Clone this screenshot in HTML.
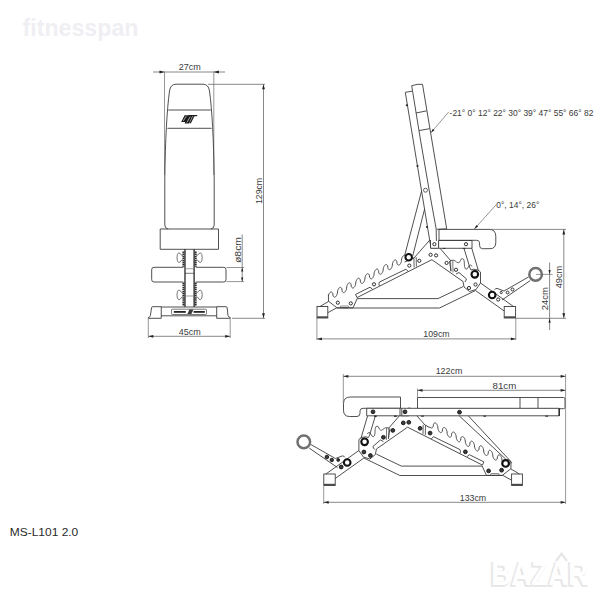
<!DOCTYPE html>
<html><head><meta charset="utf-8"><style>
html,body{margin:0;padding:0;background:#fff;}
svg{display:block;}
text{font-family:"Liberation Sans",sans-serif;}
</style></head><body>
<svg width="600" height="600" viewBox="0 0 600 600">
<rect width="600" height="600" fill="#fff"/>
<text x="22.5" y="36" font-weight="bold" font-size="23.5" fill="#efeff3" textLength="116" lengthAdjust="spacingAndGlyphs">fitnesspan</text>
<line x1="153" y1="72" x2="225" y2="72" stroke="#6a6a6a" stroke-width="0.8"/>
<path d="M164.50 72.00 L159.50 73.40 L159.50 70.60 Z" fill="#222"/>
<path d="M213.80 72.00 L218.80 70.60 L218.80 73.40 Z" fill="#222"/>
<line x1="164.5" y1="71.5" x2="164.5" y2="175" stroke="#6a6a6a" stroke-width="0.7"/>
<line x1="213.8" y1="71.5" x2="213.8" y2="175" stroke="#6a6a6a" stroke-width="0.7"/>
<text x="189.8" y="70.2" font-size="9" fill="#3a3a3a" text-anchor="middle" textLength="22" lengthAdjust="spacingAndGlyphs">27cm</text>
<path d="M168.2 229 Q164.8 228.5 164.8 225 L164.8 178 Q165.6 120 169.5 91 Q170.5 84.2 176 84.2 L203 84.2 Q208.5 84.2 209.5 91 Q213.4 120 214.2 178 L214.2 225 Q214.2 228.5 210.8 229" stroke="#3c3c3c" stroke-width="0.9" fill="none" stroke-linejoin="round"/>
<line x1="168.2" y1="110" x2="210.8" y2="110" stroke="#3c3c3c" stroke-width="0.9"/>
<line x1="167.4" y1="128.3" x2="211.6" y2="128.3" stroke="#3c3c3c" stroke-width="0.9"/>
<path d="M181.2 121.9 L184.6 115.3 L188.6 115.3 L185.4 121.9 Z M184.6 123.6 L188.2 115.6 L192.6 115.6 L189.0 123.6 Z M189.4 123.2 L192.9 116.2 L194.4 116.2 L190.9 123.2 Z M188.6 115.0 L197.6 115.0 L196.8 116.3 L188.2 116.3 Z" fill="#1c1c1c"/>
<path d="M183.3 120.9 L186.2 116.1 M187.0 122.4 L190.2 116.6" stroke="#d8d8d8" stroke-width="0.7" fill="none"/>
<line x1="208" y1="84.3" x2="265" y2="84.3" stroke="#6a6a6a" stroke-width="0.8"/>
<line x1="263.5" y1="84.3" x2="263.5" y2="318.3" stroke="#6a6a6a" stroke-width="0.8"/>
<path d="M263.50 84.30 L264.90 89.30 L262.10 89.30 Z" fill="#222"/>
<path d="M263.50 318.30 L262.10 313.30 L264.90 313.30 Z" fill="#222"/>
<text x="262" y="191" font-size="9" fill="#3a3a3a" text-anchor="middle" textLength="26" lengthAdjust="spacingAndGlyphs" transform="rotate(-90 262 191)">129cm</text>
<line x1="232" y1="318.3" x2="265" y2="318.3" stroke="#6a6a6a" stroke-width="0.8"/>
<path d="M160.2 229 L218.5 229 L218.5 249.3 L160.2 249.3 Z" stroke="#3c3c3c" stroke-width="0.9" fill="none" stroke-linejoin="round"/>
<rect x="183.3" y="250.1" width="12.6" height="56.6" fill="#fff" stroke="none"/>
<line x1="185" y1="249.3" x2="185" y2="307" stroke="#262626" stroke-width="1.3"/>
<line x1="194.1" y1="249.3" x2="194.1" y2="307" stroke="#262626" stroke-width="1.3"/>
<path d="M183.5 251.5 L183.5 267 M195.6 251.5 L195.6 267 M183.5 282.5 L183.5 306 M195.6 282.5 L195.6 306" stroke="#2a2a2a" stroke-width="2.1" stroke-dasharray="1.5 0.6" fill="none"/>
<line x1="185" y1="268.7" x2="194.1" y2="268.7" stroke="#777" stroke-width="0.7"/>
<line x1="185" y1="273.3" x2="194.1" y2="273.3" stroke="#3c3c3c" stroke-width="0.7"/>
<line x1="185" y1="296" x2="194.1" y2="296" stroke="#777" stroke-width="0.7"/>
<path d="M182.8 255.6 L181.6 255.29999999999998 Q180.2 252.7 178.6 252.89999999999998 Q177 253.7 177 257.7 Q177 261.7 178.6 262.5 Q180.2 262.7 181.6 260.09999999999997 L182.8 259.8" stroke="#555" stroke-width="0.8" fill="none" stroke-linejoin="round"/>
<path d="M196.4 255.6 L197.6 255.29999999999998 Q199 252.7 200.6 252.89999999999998 Q202.2 253.7 202.2 257.7 Q202.2 261.7 200.6 262.5 Q199 262.7 197.6 260.09999999999997 L196.4 259.8" stroke="#555" stroke-width="0.8" fill="none" stroke-linejoin="round"/>
<path d="M182.8 292.79999999999995 L181.6 292.5 Q180.2 289.9 178.6 290.09999999999997 Q177 290.9 177 294.9 Q177 298.9 178.6 299.7 Q180.2 299.9 181.6 297.29999999999995 L182.8 297.0" stroke="#555" stroke-width="0.8" fill="none" stroke-linejoin="round"/>
<path d="M196.4 292.79999999999995 L197.6 292.5 Q199 289.9 200.6 290.09999999999997 Q202.2 290.9 202.2 294.9 Q202.2 298.9 200.6 299.7 Q199 299.9 197.6 297.29999999999995 L196.4 297.0" stroke="#555" stroke-width="0.8" fill="none" stroke-linejoin="round"/>
<path d="M183.3 267.3 L154 267.3 Q151.7 267.3 151.7 269.6 L151.7 279.7 Q151.7 282 154 282 L183.3 282" stroke="#3c3c3c" stroke-width="0.9" fill="none" stroke-linejoin="round"/>
<path d="M195.9 267.3 L223.7 267.3 Q226 267.3 226 269.6 L226 279.7 Q226 282 223.7 282 L195.9 282" stroke="#3c3c3c" stroke-width="0.9" fill="none" stroke-linejoin="round"/>
<line x1="226.5" y1="267.5" x2="244" y2="267.5" stroke="#6a6a6a" stroke-width="0.7"/>
<line x1="226.5" y1="281.6" x2="244" y2="281.6" stroke="#6a6a6a" stroke-width="0.7"/>
<line x1="242.2" y1="234.5" x2="242.2" y2="282" stroke="#6a6a6a" stroke-width="0.8"/>
<path d="M242.20 267.50 L243.30 271.50 L241.10 271.50 Z" fill="#222"/>
<path d="M242.20 281.60 L241.10 277.60 L243.30 277.60 Z" fill="#222"/>
<text x="240.5" y="250" font-size="9" fill="#3a3a3a" text-anchor="middle" textLength="26" lengthAdjust="spacingAndGlyphs" transform="rotate(-90 240.5 250)">ø8cm</text>
<path d="M152.5 306.7 L161.25 306.7 L161.25 318.3 L148.3 318.3 L148.3 317.5 Q150.4 317 150.4 315.5 L151.5 308 Q151.8 306.7 152.5 306.7 Z" stroke="#3c3c3c" stroke-width="0.9" fill="none" stroke-linejoin="round"/>
<path d="M216.7 306.7 L226 306.7 Q227 306.7 227.2 308 L228 315.5 Q228.2 317 230.3 317.5 L230.3 318.3 L216.7 318.3 Z" stroke="#3c3c3c" stroke-width="0.9" fill="none" stroke-linejoin="round"/>
<line x1="161.25" y1="307" x2="216.7" y2="307" stroke="#3c3c3c" stroke-width="0.9"/>
<line x1="161.25" y1="315.8" x2="216.7" y2="315.8" stroke="#3c3c3c" stroke-width="0.9"/>
<rect x="171.5" y="309.2" width="35" height="5.3" rx="0.8" fill="#fff" stroke="#444" stroke-width="0.7"/>
<rect x="173.8" y="311.0" width="12" height="1.8" fill="#262626"/>
<rect x="193.6" y="311.0" width="11.2" height="1.8" fill="#262626"/>
<path d="M187.4 314 L189.4 309.5 L193.4 309.5 L191.4 314 Z" fill="#3a3a3a"/>
<line x1="148.3" y1="318.3" x2="148.3" y2="338" stroke="#6a6a6a" stroke-width="0.7"/>
<line x1="230.2" y1="318.3" x2="230.2" y2="338" stroke="#6a6a6a" stroke-width="0.7"/>
<line x1="148.3" y1="336.3" x2="230.2" y2="336.3" stroke="#6a6a6a" stroke-width="0.8"/>
<path d="M148.30 336.30 L153.30 334.90 L153.30 337.70 Z" fill="#222"/>
<path d="M230.20 336.30 L225.20 337.70 L225.20 334.90 Z" fill="#222"/>
<text x="189.8" y="334.6" font-size="9" fill="#3a3a3a" text-anchor="middle" textLength="22" lengthAdjust="spacingAndGlyphs">45cm</text>
<g>
<rect x="317" y="306.5" width="10.8" height="11.5" fill="#fff" stroke="#3c3c3c" stroke-width="0.9"/>
<rect x="317" y="316.3" width="10.8" height="1.7" fill="#4a4a4a"/>
<rect x="504.2" y="306.5" width="11.4" height="11.5" fill="#fff" stroke="#3c3c3c" stroke-width="0.9"/>
<rect x="504.2" y="316.3" width="11.4" height="1.7" fill="#4a4a4a"/>
<line x1="319.9" y1="306.5" x2="328.7" y2="301.4" stroke="#3c3c3c" stroke-width="0.9"/>
<line x1="327.8" y1="312.7" x2="336.8" y2="307.8" stroke="#3c3c3c" stroke-width="0.9"/>
<path d="M328.40 295.92 L328.57 295.22 L328.73 294.71 L328.90 294.29 L329.07 293.93 L329.23 293.61 L329.40 293.33 L329.57 293.08 L329.74 292.86 L329.90 292.66 L330.07 292.49 L330.24 292.34 L330.40 292.22 L330.57 292.12 L330.74 292.04 L330.90 291.99 L331.07 291.96 L331.24 291.96 L331.40 291.98 L331.57 292.02 L331.74 292.10 L331.90 292.20 L332.07 292.34 L332.24 292.52 L332.41 292.74 L332.57 293.05 L332.74 293.48 L332.91 294.95 L333.07 295.75 L333.24 296.14 L333.41 296.42 L333.57 296.64 L333.74 296.81 L333.91 296.94 L334.07 297.03 L334.24 297.10 L334.41 297.14 L334.57 297.16 L334.74 297.15 L334.91 297.12 L335.08 297.06 L335.24 296.98 L335.41 296.87 L335.58 296.74 L335.74 296.59 L335.91 296.41 L336.08 296.21 L336.24 295.98 L336.41 295.72 L336.58 295.43 L336.74 295.11 L336.91 294.73 L337.08 294.30 L337.24 293.77 L337.41 292.97 L337.58 291.19 L337.75 290.55 L337.91 290.06 L338.08 289.65 L338.25 289.30 L338.41 288.99 L338.58 288.71 L338.75 288.46 L338.91 288.24 L339.08 288.05 L339.25 287.88 L339.41 287.74 L339.58 287.62 L339.75 287.53 L339.91 287.45 L340.08 287.41 L340.25 287.38 L340.42 287.38 L340.58 287.41 L340.75 287.46 L340.92 287.54 L341.08 287.65 L341.25 287.79 L341.42 287.98 L341.58 288.21 L341.75 288.53 L341.92 289.01 L342.08 290.60 L342.25 291.25 L342.42 291.62 L342.59 291.89 L342.75 292.10 L342.92 292.26 L343.09 292.38 L343.25 292.47 L343.42 292.54 L343.59 292.57 L343.75 292.58 L343.92 292.57 L344.09 292.53 L344.25 292.47 L344.42 292.39 L344.59 292.28 L344.75 292.14 L344.92 291.99 L345.09 291.81 L345.26 291.60 L345.42 291.36 L345.59 291.10 L345.76 290.80 L345.92 290.47 L346.09 290.09 L346.26 289.64 L346.42 289.08 L346.59 288.15 L346.76 286.49 L346.92 285.88 L347.09 285.41 L347.26 285.01 L347.42 284.67 L347.59 284.36 L347.76 284.09 L347.93 283.85 L348.09 283.63 L348.26 283.45 L348.43 283.28 L348.59 283.14 L348.76 283.03 L348.93 282.94 L349.09 282.87 L349.26 282.83 L349.43 282.81 L349.59 282.81 L349.76 282.84 L349.93 282.90 L350.09 282.98 L350.26 283.10 L350.43 283.25 L350.60 283.44 L350.76 283.69 L350.93 284.02 L351.10 284.55 L351.26 286.19 L351.43 286.75 L351.60 287.10 L351.76 287.35 L351.93 287.55 L352.10 287.70 L352.26 287.82 L352.43 287.91 L352.60 287.97 L352.76 288.00 L352.93 288.01 L353.10 287.99 L353.27 287.95 L353.43 287.88 L353.60 287.79 L353.77 287.68 L353.93 287.54 L354.10 287.38 L354.27 287.20 L354.43 286.98 L354.60 286.75 L354.77 286.48 L354.93 286.17 L355.10 285.83 L355.27 285.44 L355.44 284.98 L355.60 284.39 L355.77 282.88 L355.94 281.79 L356.10 281.22 L356.27 280.76 L356.44 280.38 L356.60 280.04 L356.77 279.74 L356.94 279.47 L357.10 279.24 L357.27 279.03 L357.44 278.84 L357.60 278.68 L357.77 278.55 L357.94 278.44 L358.11 278.35 L358.27 278.28 L358.44 278.24 L358.61 278.23 L358.77 278.24 L358.94 278.27 L359.11 278.33 L359.27 278.42 L359.44 278.54 L359.61 278.70 L359.77 278.90 L359.94 279.16 L360.11 279.52 L360.27 280.12 L360.44 281.74 L360.61 282.24 L360.78 282.57 L360.94 282.82 L361.11 283.00 L361.28 283.15 L361.44 283.27 L361.61 283.35 L361.78 283.40 L361.94 283.43 L362.11 283.43 L362.28 283.41 L362.44 283.36 L362.61 283.29 L362.78 283.20 L362.94 283.08 L363.11 282.94 L363.28 282.78 L363.45 282.59 L363.61 282.37 L363.78 282.13 L363.95 281.85 L364.11 281.54 L364.28 281.20 L364.45 280.80 L364.61 280.32 L364.78 279.69 L364.95 277.97 L365.11 277.10 L365.28 276.56 L365.45 276.12 L365.61 275.74 L365.78 275.41 L365.95 275.12 L366.12 274.86 L366.28 274.62 L366.45 274.42 L366.62 274.24 L366.78 274.08 L366.95 273.95 L367.12 273.84 L367.28 273.76 L367.45 273.70 L367.62 273.67 L367.78 273.65 L367.95 273.67 L368.12 273.71 L368.29 273.77 L368.45 273.87 L368.62 273.99 L368.79 274.16 L368.95 274.37 L369.12 274.64 L369.29 275.02 L369.45 275.72 L369.62 277.28 L369.79 277.73 L369.95 278.04 L370.12 278.28 L370.29 278.46 L370.45 278.60 L370.62 278.71 L370.79 278.78 L370.96 278.83 L371.12 278.86 L371.29 278.85 L371.46 278.83 L371.62 278.78 L371.79 278.71 L371.96 278.61 L372.12 278.49 L372.29 278.34 L372.46 278.17 L372.62 277.98 L372.79 277.76 L372.96 277.51 L373.12 277.23 L373.29 276.91 L373.46 276.56 L373.63 276.15 L373.79 275.65 L373.96 274.98 L374.13 273.19 L374.29 272.42 L374.46 271.90 L374.63 271.47 L374.79 271.11 L374.96 270.78 L375.13 270.49 L375.29 270.24 L375.46 270.01 L375.63 269.81 L375.79 269.63 L375.96 269.48 L376.13 269.36 L376.30 269.25 L376.46 269.17 L376.63 269.12 L376.80 269.09 L376.96 269.08 L377.13 269.10 L377.30 269.14 L377.46 269.21 L377.63 269.31 L377.80 269.44 L377.96 269.61 L378.13 269.83 L378.30 270.12 L378.46 270.53 L378.63 271.46 L378.80 272.80 L378.97 273.22 L379.13 273.51 L379.30 273.74 L379.47 273.91 L379.63 274.04 L379.80 274.15 L379.97 274.22 L380.13 274.26 L380.30 274.28 L380.47 274.28 L380.63 274.25 L380.80 274.19 L380.97 274.12 L381.14 274.01 L381.30 273.89 L381.47 273.74 L381.64 273.57 L381.80 273.37 L381.97 273.14 L382.14 272.89 L382.30 272.60 L382.47 272.28 L382.64 271.92 L382.80 271.49 L382.97 270.98 L383.14 270.25 L383.30 268.44 L383.47 267.75 L383.64 267.25 L383.81 266.83 L383.97 266.47 L384.14 266.16 L384.31 265.87 L384.47 265.62 L384.64 265.40 L384.81 265.20 L384.97 265.03 L385.14 264.88 L385.31 264.76 L385.47 264.66 L385.64 264.59 L385.81 264.54 L385.97 264.51 L386.14 264.51 L386.31 264.53 L386.48 264.57 L386.64 264.65 L386.81 264.76 L386.98 264.89 L387.14 265.07 L387.31 265.30 L387.48 265.60 L387.64 266.05 L387.81 267.55 L387.98 268.31 L388.14 268.70 L388.31 268.98 L388.48 269.19 L388.64 269.36 L388.81 269.49 L388.98 269.59 L389.15 269.65 L389.31 269.69 L389.48 269.71 L389.65 269.70 L389.81 269.66 L389.98 269.61 L390.15 269.52 L390.31 269.42 L390.48 269.29 L390.65 269.14 L390.81 268.96 L390.98 268.75 L391.15 268.52 L391.31 268.26 L391.48 267.97 L391.65 267.65 L391.82 267.27 L391.98 266.84 L392.15 266.30 L392.32 265.48 L392.48 263.72 L392.65 263.08 L392.82 262.60 L392.98 262.19 L393.15 261.84 L393.32 261.53 L393.48 261.25 L393.65 261.01 L393.82 260.79 L393.99 260.60 L394.15 260.43 L394.32 260.29 L394.49 260.17 L394.65 260.07 L394.82 260.00 L394.99 259.95 L395.15 259.93 L395.32 259.93 L395.49 259.96 L395.65 260.01 L395.82 260.09 L395.99 260.20 L396.15 260.35 L396.32 260.53 L396.49 260.77 L396.66 261.09 L396.82 261.58 L396.99 263.18 L397.16 263.81 L397.32 264.18 L397.49 264.45 L397.66 264.65 L397.82 264.81 L397.99 264.93 L398.16 265.02 L398.32 265.09 L398.49 265.12 L398.66 265.13 L398.82 265.12 L398.99 265.08 L399.16 265.02 L399.33 264.93 L399.49 264.82 L399.66 264.69 L399.83 264.53 L399.99 264.35 L400.16 264.14 L400.33 263.91 L400.49 263.64 L400.66 263.35 L400.83 263.01 L400.99 262.63 L401.16 262.18 L401.33 261.62 L401.49 260.65 L401.66 259.02 L401.83 258.42 L402.00 257.95 L402.16 257.55 L402.33 257.21 L402.50 256.91 L402.66 256.63 L402.83 256.39 L403.00 256.18 L403.16 255.99 L403.33 255.83 L403.50 255.69 L403.66 255.58 L403.83 255.48 L404.00 255.42 L404.16 255.37 L404.33 255.35 L404.50 255.36 L404.67 255.39 L404.83 255.45 L405.00 255.53 L405.17 255.65 L405.33 255.80 L405.50 255.99" stroke="#3c3c3c" stroke-width="0.95" fill="none"/>
<path d="M328.5 301.4 L328.4 294.5" stroke="#3c3c3c" stroke-width="0.9" fill="none" stroke-linejoin="round"/>
<path d="M328.7 301.4 L337 307.8 L353 307.8 L357.4 298.2" stroke="#3c3c3c" stroke-width="0.9" fill="none" stroke-linejoin="round"/>
<rect x="340.3" y="306.0" width="8.4" height="1.8" rx="0.9" fill="none" stroke="#3c3c3c" stroke-width="0.6"/>
<path d="M357 297.6 L355.5 294.4 L370 287.2 L372.5 289.2" stroke="#3c3c3c" stroke-width="0.9" fill="none" stroke-linejoin="round"/>
<path d="M379.4 285.8 Q378.3 284 379.5 282 L405.9 269.2 L408.2 271.4" stroke="#3c3c3c" stroke-width="0.9" fill="none" stroke-linejoin="round"/>
<line x1="357" y1="297.6" x2="432" y2="259.6" stroke="#3c3c3c" stroke-width="0.9"/>
<line x1="413.9" y1="257.6" x2="414.1" y2="267.6" stroke="#3c3c3c" stroke-width="0.8"/>
<line x1="416.2" y1="257.2" x2="416.4" y2="266.6" stroke="#3c3c3c" stroke-width="0.8"/>
<line x1="432" y1="259.8" x2="463" y2="281.5" stroke="#3c3c3c" stroke-width="0.9"/>
<path d="M357.4 298.6 L438 298.6 L463 286.6" stroke="#3c3c3c" stroke-width="0.9" fill="none" stroke-linejoin="round"/>
<path d="M336.8 308 L439.5 308 L475.5 290.5" stroke="#3c3c3c" stroke-width="0.9" fill="none" stroke-linejoin="round"/>
<line x1="480.5" y1="283" x2="513.5" y2="306.5" stroke="#3c3c3c" stroke-width="0.9"/>
<line x1="475.5" y1="290.5" x2="504.2" y2="311" stroke="#3c3c3c" stroke-width="0.9"/>
<line x1="440" y1="248.3" x2="451" y2="261" stroke="#3c3c3c" stroke-width="0.9"/>
<line x1="449.5" y1="261" x2="451" y2="271" stroke="#3c3c3c" stroke-width="0.9"/>
<path d="M414 258 L429.6 240.2" stroke="#3c3c3c" stroke-width="0.9" fill="none" stroke-linejoin="round"/>
<path d="M430.4 240 L430.6 248.3 L438.6 248.3 L438.6 240.5" stroke="#3c3c3c" stroke-width="1.0" fill="none" stroke-linejoin="round"/>
<rect x="442.8" y="247.9" width="2.6" height="1.1" fill="#222"/>
<rect x="462.8" y="247.9" width="2.6" height="1.1" fill="#222"/>
<path d="M450.5 260.5 L453.5 260.2 Q455 260.5 456.5 262 Q458 263 459 262.6 Q460 262 460.5 260.5 Q461 258.5 462.3 258.6 Q463.8 258.7 464.2 261 L464.5 266.5 Q465 269 466 269.2 Q467.5 269.2 468.5 266.8 Q469.3 265 470.5 265 Q471.7 265.2 472 266.5" stroke="#3c3c3c" stroke-width="0.8" fill="none" stroke-linejoin="round"/>
<line x1="450.6" y1="260.3" x2="450.8" y2="271.5" stroke="#3c3c3c" stroke-width="0.7"/>
<line x1="452.8" y1="260.3" x2="453" y2="272.5" stroke="#3c3c3c" stroke-width="0.7"/>
<path d="M469 266 L471 270 Q473 268.5 478 270 L480.5 272 L480.5 283 L476 289.5 L469.5 291.5 L464 287 L463 281.5" stroke="#3c3c3c" stroke-width="0.9" fill="none" stroke-linejoin="round"/>
<path d="M456 274 L459 272.5 L466.5 279 L465 282" stroke="#3c3c3c" stroke-width="0.9" fill="none" stroke-linejoin="round"/>
<line x1="464" y1="248.3" x2="469.5" y2="266.5" stroke="#3c3c3c" stroke-width="0.9"/>
<line x1="471.8" y1="248.3" x2="478.5" y2="271" stroke="#3c3c3c" stroke-width="0.9"/>
<path d="M494.5 289.8 Q495.5 288.2 497 288.4 L504 291 L528.5 277" stroke="#3c3c3c" stroke-width="0.9" fill="none" stroke-linejoin="round"/>
<line x1="502" y1="300" x2="530.2" y2="280.6" stroke="#3c3c3c" stroke-width="0.9"/>
<circle cx="535.6" cy="274.4" r="6.3" stroke="#707070" stroke-width="2.5" fill="#fff"/>
<circle cx="474.8" cy="274.3" r="3.3" stroke="#111" stroke-width="2.1" fill="#fff"/>
<circle cx="492.2" cy="295" r="3.3" stroke="#111" stroke-width="2.1" fill="#fff"/>
<circle cx="337.8" cy="302.7" r="1.6" stroke="#2e2e2e" stroke-width="1.0" fill="#fff"/>
<circle cx="350.8" cy="303.4" r="1.6" stroke="#2e2e2e" stroke-width="1.0" fill="#fff"/>
<circle cx="374" cy="284.3" r="1.6" stroke="#2e2e2e" stroke-width="1.0" fill="#fff"/>
<circle cx="409.3" cy="265.6" r="1.6" stroke="#2e2e2e" stroke-width="1.0" fill="#fff"/>
<circle cx="430.6" cy="254.8" r="1.6" stroke="#2e2e2e" stroke-width="1.0" fill="#fff"/>
<circle cx="436.1" cy="255.4" r="1.6" stroke="#2e2e2e" stroke-width="1.0" fill="#fff"/>
<circle cx="419.3" cy="260.8" r="1.6" stroke="#2e2e2e" stroke-width="1.0" fill="#fff"/>
<circle cx="446.6" cy="262.9" r="1.6" stroke="#2e2e2e" stroke-width="1.0" fill="#fff"/>
<circle cx="456" cy="269.8" r="1.6" stroke="#2e2e2e" stroke-width="1.0" fill="#fff"/>
<circle cx="475.5" cy="284.5" r="1.6" stroke="#2e2e2e" stroke-width="1.0" fill="#fff"/>
<circle cx="469" cy="288" r="1.6" stroke="#2e2e2e" stroke-width="1.0" fill="#fff"/>
<circle cx="498.2" cy="299.5" r="1.6" stroke="#2e2e2e" stroke-width="1.0" fill="#fff"/>
<circle cx="466" cy="244.2" r="1.6" stroke="#2e2e2e" stroke-width="1.0" fill="#fff"/>
<circle cx="434.4" cy="244.2" r="1.6" stroke="#2e2e2e" stroke-width="1.0" fill="#fff"/>
<circle cx="501.2" cy="292.5" r="1.1" stroke="#333" stroke-width="1.0" fill="#fff"/>
<circle cx="507.6" cy="292.5" r="1.4" stroke="#333" stroke-width="1.0" fill="#fff"/>
<circle cx="512.5" cy="289.5" r="1.5" stroke="#333" stroke-width="1.0" fill="#fff"/>
</g>
<line x1="405.3" y1="92.3" x2="430.3" y2="244" stroke="#3c3c3c" stroke-width="0.9"/>
<line x1="405.3" y1="92.3" x2="412.0" y2="91.2" stroke="#3c3c3c" stroke-width="0.9"/>
<path d="M411.7 85.7 L420.5 140 L430 195 L436.2 229 L436.4 241" stroke="#3c3c3c" stroke-width="0.9" fill="none" stroke-linejoin="round"/>
<path d="M411.7 85.7 Q417 83.8 422.5 84.3 L446.7 228.8 L436.9 229.3" stroke="#3c3c3c" stroke-width="0.9" fill="none" stroke-linejoin="round"/>
<line x1="415.9" y1="113" x2="426.6" y2="110.9" stroke="#3c3c3c" stroke-width="0.9"/>
<line x1="419.0" y1="130.6" x2="429.5" y2="128.7" stroke="#3c3c3c" stroke-width="0.9"/>
<line x1="414" y1="258" x2="404.5" y2="262" stroke="#3c3c3c" stroke-width="0.9"/>
<circle cx="408.7" cy="257.3" r="3.25" stroke="#111" stroke-width="2.0" fill="#fff"/>
<line x1="421.6" y1="191" x2="404.7" y2="255.3" stroke="#3c3c3c" stroke-width="0.9"/>
<line x1="424.6" y1="209" x2="412.7" y2="256" stroke="#3c3c3c" stroke-width="0.9"/>
<circle cx="425.5" cy="190.2" r="2.0" stroke="#3c3c3c" stroke-width="0.8" fill="none"/>
<circle cx="406.8" cy="105.3" r="1.05" fill="#222"/>
<circle cx="417.5" cy="166" r="1.05" fill="#222"/>
<circle cx="427" cy="227" r="1.05" fill="#222"/>
<path d="M438.7 229.4 L489 229.4 Q495.8 229.4 495.8 236.2 L495.8 242.5 Q495.8 248.7 490 248.7 L482.5 248.7 Q479.6 248.7 479.6 245.5 L479.5 242.5 Q479.3 240.3 476.5 240.3 L438.7 240.3" stroke="#3c3c3c" stroke-width="0.9" fill="none" stroke-linejoin="round"/>
<line x1="439" y1="229.4" x2="439" y2="240.3" stroke="#3c3c3c" stroke-width="0.9"/>
<path d="M438.7 240.5 L472 240.5 L472 248.3 L438.7 248.3" stroke="#3c3c3c" stroke-width="0.9" fill="none" stroke-linejoin="round"/>
<line x1="430.9" y1="132.7" x2="448.8" y2="111.9" stroke="#6a6a6a" stroke-width="0.7"/>
<path d="M430.90 132.70 L432.79 128.79 L434.47 130.22 Z" fill="#222"/>
<text x="449.6" y="116" font-size="8.4" fill="#3a3a3a" text-anchor="start" textLength="143.8" lengthAdjust="spacingAndGlyphs">-21° 0° 12° 22° 30° 39° 47° 55° 66° 82</text>
<line x1="474.3" y1="229.1" x2="496.3" y2="204.6" stroke="#6a6a6a" stroke-width="0.7"/>
<path d="M474.30 229.10 L476.37 224.93 L478.17 226.51 Z" fill="#222"/>
<text x="496.3" y="208.1" font-size="8.2" fill="#3a3a3a" text-anchor="start" textLength="43" lengthAdjust="spacingAndGlyphs">0°, 14°, 26°</text>
<line x1="488" y1="229.4" x2="566" y2="229.4" stroke="#6a6a6a" stroke-width="0.8"/>
<line x1="563.8" y1="229.5" x2="563.8" y2="318.3" stroke="#6a6a6a" stroke-width="0.8"/>
<path d="M563.80 229.50 L565.20 234.50 L562.40 234.50 Z" fill="#222"/>
<path d="M563.80 318.30 L562.40 313.30 L565.20 313.30 Z" fill="#222"/>
<text x="562.3" y="277" font-size="9" fill="#3a3a3a" text-anchor="middle" textLength="22.5" lengthAdjust="spacingAndGlyphs" transform="rotate(-90 562.3 277)">49cm</text>
<line x1="515.8" y1="318.3" x2="566" y2="318.3" stroke="#6a6a6a" stroke-width="0.8"/>
<line x1="536" y1="274.4" x2="552.5" y2="274.4" stroke="#6a6a6a" stroke-width="0.7"/>
<line x1="549.6" y1="262.5" x2="549.6" y2="330" stroke="#6a6a6a" stroke-width="0.8"/>
<path d="M549.60 274.50 L548.50 270.00 L550.70 270.00 Z" fill="#222"/>
<path d="M549.60 318.30 L550.70 322.80 L548.50 322.80 Z" fill="#222"/>
<text x="547.7" y="298.7" font-size="9" fill="#3a3a3a" text-anchor="middle" textLength="23" lengthAdjust="spacingAndGlyphs" transform="rotate(-90 547.7 298.7)">24cm</text>
<line x1="316.9" y1="318" x2="316.9" y2="340" stroke="#6a6a6a" stroke-width="0.7"/>
<line x1="515.8" y1="318" x2="515.8" y2="340" stroke="#6a6a6a" stroke-width="0.7"/>
<line x1="316.9" y1="338.9" x2="515.8" y2="338.9" stroke="#6a6a6a" stroke-width="0.8"/>
<path d="M316.90 338.90 L321.90 337.50 L321.90 340.30 Z" fill="#222"/>
<path d="M515.80 338.90 L510.80 340.30 L510.80 337.50 Z" fill="#222"/>
<text x="436.5" y="336.9" font-size="9" fill="#3a3a3a" text-anchor="middle" textLength="26.3" lengthAdjust="spacingAndGlyphs">109cm</text>
<g transform="translate(839.4 167.5) scale(-1 1)">
<rect x="317" y="306.5" width="10.8" height="11.5" fill="#fff" stroke="#3c3c3c" stroke-width="0.9"/>
<rect x="317" y="316.3" width="10.8" height="1.7" fill="#4a4a4a"/>
<rect x="504.2" y="306.5" width="11.4" height="11.5" fill="#fff" stroke="#3c3c3c" stroke-width="0.9"/>
<rect x="504.2" y="316.3" width="11.4" height="1.7" fill="#4a4a4a"/>
<line x1="319.9" y1="306.5" x2="328.7" y2="301.4" stroke="#3c3c3c" stroke-width="0.9"/>
<line x1="327.8" y1="312.7" x2="336.8" y2="307.8" stroke="#3c3c3c" stroke-width="0.9"/>
<path d="M328.40 295.92 L328.57 295.22 L328.73 294.71 L328.90 294.29 L329.07 293.93 L329.23 293.62 L329.40 293.33 L329.57 293.08 L329.73 292.86 L329.90 292.66 L330.07 292.49 L330.23 292.34 L330.40 292.22 L330.57 292.12 L330.73 292.04 L330.90 291.99 L331.07 291.96 L331.23 291.96 L331.40 291.98 L331.57 292.02 L331.73 292.10 L331.90 292.20 L332.07 292.34 L332.23 292.51 L332.40 292.74 L332.57 293.04 L332.74 293.47 L332.90 294.91 L333.07 295.73 L333.24 296.13 L333.40 296.42 L333.57 296.63 L333.74 296.80 L333.90 296.93 L334.07 297.03 L334.24 297.10 L334.40 297.14 L334.57 297.16 L334.74 297.15 L334.90 297.12 L335.07 297.06 L335.24 296.98 L335.40 296.88 L335.57 296.75 L335.74 296.60 L335.90 296.42 L336.07 296.22 L336.24 295.99 L336.40 295.73 L336.57 295.45 L336.74 295.12 L336.90 294.75 L337.07 294.32 L337.24 293.80 L337.40 293.02 L337.57 291.23 L337.74 290.57 L337.90 290.08 L338.07 289.67 L338.24 289.32 L338.40 289.00 L338.57 288.72 L338.74 288.48 L338.90 288.26 L339.07 288.06 L339.24 287.89 L339.40 287.75 L339.57 287.63 L339.74 287.53 L339.90 287.46 L340.07 287.41 L340.24 287.38 L340.40 287.38 L340.57 287.40 L340.74 287.45 L340.91 287.53 L341.07 287.64 L341.24 287.78 L341.41 287.96 L341.57 288.20 L341.74 288.51 L341.91 288.96 L342.07 290.52 L342.24 291.22 L342.41 291.60 L342.57 291.87 L342.74 292.08 L342.91 292.25 L343.07 292.37 L343.24 292.47 L343.41 292.53 L343.57 292.57 L343.74 292.58 L343.91 292.57 L344.07 292.54 L344.24 292.48 L344.41 292.39 L344.57 292.29 L344.74 292.16 L344.91 292.00 L345.07 291.82 L345.24 291.62 L345.41 291.39 L345.57 291.13 L345.74 290.83 L345.91 290.50 L346.07 290.13 L346.24 289.69 L346.41 289.14 L346.57 288.30 L346.74 286.56 L346.91 285.93 L347.07 285.45 L347.24 285.05 L347.41 284.70 L347.57 284.39 L347.74 284.12 L347.91 283.87 L348.07 283.66 L348.24 283.46 L348.41 283.30 L348.58 283.16 L348.74 283.04 L348.91 282.95 L349.08 282.88 L349.24 282.83 L349.41 282.81 L349.58 282.81 L349.74 282.83 L349.91 282.89 L350.08 282.97 L350.24 283.08 L350.41 283.23 L350.58 283.41 L350.74 283.65 L350.91 283.98 L351.08 284.47 L351.24 286.08 L351.41 286.70 L351.58 287.06 L351.74 287.33 L351.91 287.53 L352.08 287.69 L352.24 287.81 L352.41 287.90 L352.58 287.96 L352.74 288.00 L352.91 288.01 L353.08 287.99 L353.24 287.96 L353.41 287.89 L353.58 287.81 L353.74 287.70 L353.91 287.56 L354.08 287.41 L354.24 287.22 L354.41 287.02 L354.58 286.78 L354.74 286.52 L354.91 286.22 L355.08 285.88 L355.24 285.50 L355.41 285.05 L355.58 284.49 L355.74 283.53 L355.91 281.89 L356.08 281.29 L356.24 280.82 L356.41 280.43 L356.58 280.09 L356.75 279.78 L356.91 279.51 L357.08 279.27 L357.25 279.06 L357.41 278.87 L357.58 278.71 L357.75 278.57 L357.91 278.45 L358.08 278.36 L358.25 278.29 L358.41 278.25 L358.58 278.23 L358.75 278.23 L358.91 278.26 L359.08 278.32 L359.25 278.41 L359.41 278.52 L359.58 278.67 L359.75 278.86 L359.91 279.11 L360.08 279.45 L360.25 279.98 L360.41 281.61 L360.58 282.18 L360.75 282.52 L360.91 282.78 L361.08 282.98 L361.25 283.13 L361.41 283.25 L361.58 283.33 L361.75 283.39 L361.91 283.43 L362.08 283.43 L362.25 283.42 L362.41 283.37 L362.58 283.31 L362.75 283.22 L362.91 283.11 L363.08 282.97 L363.25 282.81 L363.41 282.62 L363.58 282.41 L363.75 282.17 L363.91 281.91 L364.08 281.61 L364.25 281.27 L364.41 280.88 L364.58 280.42 L364.75 279.83 L364.92 278.39 L365.08 277.23 L365.25 276.65 L365.42 276.20 L365.58 275.81 L365.75 275.47 L365.92 275.17 L366.08 274.90 L366.25 274.67 L366.42 274.46 L366.58 274.27 L366.75 274.11 L366.92 273.98 L367.08 273.86 L367.25 273.78 L367.42 273.71 L367.58 273.67 L367.75 273.65 L367.92 273.66 L368.08 273.70 L368.25 273.75 L368.42 273.84 L368.58 273.96 L368.75 274.12 L368.92 274.32 L369.08 274.57 L369.25 274.93 L369.42 275.50 L369.58 277.13 L369.75 277.65 L369.92 277.98 L370.08 278.23 L370.25 278.42 L370.42 278.57 L370.58 278.69 L370.75 278.77 L370.92 278.82 L371.08 278.85 L371.25 278.86 L371.42 278.84 L371.58 278.79 L371.75 278.72 L371.92 278.63 L372.08 278.52 L372.25 278.38 L372.42 278.21 L372.59 278.03 L372.75 277.81 L372.92 277.57 L373.09 277.30 L373.25 276.99 L373.42 276.65 L373.59 276.25 L373.75 275.78 L373.92 275.17 L374.09 273.50 L374.25 272.58 L374.42 272.02 L374.59 271.57 L374.75 271.19 L374.92 270.86 L375.09 270.56 L375.25 270.30 L375.42 270.06 L375.59 269.86 L375.75 269.68 L375.92 269.52 L376.09 269.39 L376.25 269.28 L376.42 269.19 L376.59 269.13 L376.75 269.09 L376.92 269.08 L377.09 269.09 L377.25 269.13 L377.42 269.19 L377.59 269.28 L377.75 269.40 L377.92 269.56 L378.09 269.77 L378.25 270.04 L378.42 270.40 L378.59 271.04 L378.75 272.64 L378.92 273.12 L379.09 273.44 L379.25 273.68 L379.42 273.87 L379.59 274.01 L379.75 274.12 L379.92 274.20 L380.09 274.25 L380.25 274.28 L380.42 274.28 L380.59 274.26 L380.76 274.21 L380.92 274.14 L381.09 274.04 L381.26 273.93 L381.42 273.78 L381.59 273.62 L381.76 273.43 L381.92 273.21 L382.09 272.96 L382.26 272.69 L382.42 272.38 L382.59 272.02 L382.76 271.62 L382.92 271.14 L383.09 270.50 L383.26 268.75 L383.42 267.92 L383.59 267.38 L383.76 266.95 L383.92 266.57 L384.09 266.25 L384.26 265.95 L384.42 265.69 L384.59 265.46 L384.76 265.26 L384.92 265.08 L385.09 264.93 L385.26 264.80 L385.42 264.69 L385.59 264.61 L385.76 264.55 L385.92 264.51 L386.09 264.50 L386.26 264.52 L386.42 264.56 L386.59 264.62 L386.76 264.72 L386.92 264.85 L387.09 265.01 L387.26 265.22 L387.42 265.50 L387.59 265.88 L387.76 266.61 L387.92 268.14 L388.09 268.59 L388.26 268.90 L388.42 269.13 L388.59 269.31 L388.76 269.45 L388.93 269.56 L389.09 269.63 L389.26 269.68 L389.43 269.71 L389.59 269.70 L389.76 269.68 L389.93 269.63 L390.09 269.55 L390.26 269.46 L390.43 269.33 L390.59 269.19 L390.76 269.02 L390.93 268.82 L391.09 268.60 L391.26 268.35 L391.43 268.07 L391.59 267.76 L391.76 267.40 L391.93 266.99 L392.09 266.50 L392.26 265.83 L392.43 264.03 L392.59 263.27 L392.76 262.75 L392.93 262.32 L393.09 261.96 L393.26 261.63 L393.43 261.35 L393.59 261.09 L393.76 260.86 L393.93 260.66 L394.09 260.49 L394.26 260.33 L394.43 260.21 L394.59 260.10 L394.76 260.02 L394.93 259.97 L395.09 259.94 L395.26 259.93 L395.43 259.95 L395.59 259.99 L395.76 260.06 L395.93 260.16 L396.09 260.29 L396.26 260.46 L396.43 260.68 L396.60 260.96 L396.76 261.37 L396.93 262.25 L397.10 263.64 L397.26 264.06 L397.43 264.36 L397.60 264.58 L397.76 264.76 L397.93 264.89 L398.10 264.99 L398.26 265.07 L398.43 265.11 L398.60 265.13 L398.76 265.13 L398.93 265.10 L399.10 265.04 L399.26 264.97 L399.43 264.87 L399.60 264.74 L399.76 264.59 L399.93 264.42 L400.10 264.22 L400.26 264.00 L400.43 263.75 L400.60 263.46 L400.76 263.14 L400.93 262.78 L401.10 262.36 L401.26 261.85 L401.43 261.14 L401.60 259.33 L401.76 258.63 L401.93 258.12 L402.10 257.70 L402.26 257.34 L402.43 257.02 L402.60 256.74 L402.76 256.48 L402.93 256.26 L403.10 256.06 L403.26 255.89 L403.43 255.74 L403.60 255.62 L403.76 255.52 L403.93 255.44 L404.10 255.39 L404.26 255.36 L404.43 255.35 L404.60 255.38 L404.77 255.42 L404.93 255.49 L405.10 255.60 L405.27 255.73 L405.43 255.91 L405.60 256.13 L405.77 256.43 L405.93 256.86 L406.10 258.27 L406.27 259.12 L406.43 259.53 L406.60 259.81 L406.77 260.03 L406.93 260.20 L407.10 260.33 L407.27 260.43 L407.43 260.50 L407.60 260.54 L407.77 260.56 L407.93 260.55 L408.10 260.52 L408.27 260.46 L408.43 260.38 L408.60 260.28" stroke="#3c3c3c" stroke-width="0.95" fill="none"/>
<path d="M408.6 260.2 Q411.5 259.6 413.9 257.6" stroke="#3c3c3c" stroke-width="0.95" fill="none" stroke-linejoin="round"/>
<path d="M328.5 301.4 L328.4 294.5" stroke="#3c3c3c" stroke-width="0.9" fill="none" stroke-linejoin="round"/>
<path d="M328.7 301.4 L337 307.8 L353 307.8 L357.4 298.2" stroke="#3c3c3c" stroke-width="0.9" fill="none" stroke-linejoin="round"/>
<rect x="340.3" y="306.0" width="8.4" height="1.8" rx="0.9" fill="none" stroke="#3c3c3c" stroke-width="0.6"/>
<path d="M357 297.6 L355.5 294.4 L370 287.2 L372.5 289.2" stroke="#3c3c3c" stroke-width="0.9" fill="none" stroke-linejoin="round"/>
<path d="M379.4 285.8 Q378.3 284 379.5 282 L405.9 269.2 L408.2 271.4" stroke="#3c3c3c" stroke-width="0.9" fill="none" stroke-linejoin="round"/>
<line x1="357" y1="297.6" x2="432" y2="259.6" stroke="#3c3c3c" stroke-width="0.9"/>
<line x1="413.9" y1="257.6" x2="414.1" y2="267.6" stroke="#3c3c3c" stroke-width="0.8"/>
<line x1="416.2" y1="257.2" x2="416.4" y2="266.6" stroke="#3c3c3c" stroke-width="0.8"/>
<line x1="432" y1="259.8" x2="463" y2="281.5" stroke="#3c3c3c" stroke-width="0.9"/>
<path d="M357.4 298.6 L438 298.6 L463 286.6" stroke="#3c3c3c" stroke-width="0.9" fill="none" stroke-linejoin="round"/>
<path d="M336.8 308 L439.5 308 L475.5 290.5" stroke="#3c3c3c" stroke-width="0.9" fill="none" stroke-linejoin="round"/>
<line x1="480.5" y1="283" x2="513.5" y2="306.5" stroke="#3c3c3c" stroke-width="0.9"/>
<line x1="475.5" y1="290.5" x2="504.2" y2="311" stroke="#3c3c3c" stroke-width="0.9"/>
<line x1="440" y1="248.3" x2="451" y2="261" stroke="#3c3c3c" stroke-width="0.9"/>
<line x1="449.5" y1="261" x2="451" y2="271" stroke="#3c3c3c" stroke-width="0.9"/>
<path d="M414 258 L429.6 240.2" stroke="#3c3c3c" stroke-width="0.9" fill="none" stroke-linejoin="round"/>
<path d="M430.4 240 L430.6 248.3 L438.6 248.3 L438.6 240.5" stroke="#3c3c3c" stroke-width="1.0" fill="none" stroke-linejoin="round"/>
<rect x="442.8" y="247.9" width="2.6" height="1.1" fill="#222"/>
<rect x="462.8" y="247.9" width="2.6" height="1.1" fill="#222"/>
<path d="M450.5 260.5 L453.5 260.2 Q455 260.5 456.5 262 Q458 263 459 262.6 Q460 262 460.5 260.5 Q461 258.5 462.3 258.6 Q463.8 258.7 464.2 261 L464.5 266.5 Q465 269 466 269.2 Q467.5 269.2 468.5 266.8 Q469.3 265 470.5 265 Q471.7 265.2 472 266.5" stroke="#3c3c3c" stroke-width="0.8" fill="none" stroke-linejoin="round"/>
<line x1="450.6" y1="260.3" x2="450.8" y2="271.5" stroke="#3c3c3c" stroke-width="0.7"/>
<line x1="452.8" y1="260.3" x2="453" y2="272.5" stroke="#3c3c3c" stroke-width="0.7"/>
<path d="M469 266 L471 270 Q473 268.5 478 270 L480.5 272 L480.5 283 L476 289.5 L469.5 291.5 L464 287 L463 281.5" stroke="#3c3c3c" stroke-width="0.9" fill="none" stroke-linejoin="round"/>
<path d="M456 274 L459 272.5 L466.5 279 L465 282" stroke="#3c3c3c" stroke-width="0.9" fill="none" stroke-linejoin="round"/>
<line x1="464" y1="248.3" x2="469.5" y2="266.5" stroke="#3c3c3c" stroke-width="0.9"/>
<line x1="471.8" y1="248.3" x2="478.5" y2="271" stroke="#3c3c3c" stroke-width="0.9"/>
<path d="M494.5 289.8 Q495.5 288.2 497 288.4 L504 291 L528.5 277" stroke="#3c3c3c" stroke-width="0.9" fill="none" stroke-linejoin="round"/>
<line x1="502" y1="300" x2="530.2" y2="280.6" stroke="#3c3c3c" stroke-width="0.9"/>
<circle cx="535.6" cy="274.4" r="6.3" stroke="#707070" stroke-width="2.5" fill="#fff"/>
<circle cx="474.8" cy="274.3" r="3.3" stroke="#111" stroke-width="2.1" fill="#fff"/>
<circle cx="492.2" cy="295" r="3.3" stroke="#111" stroke-width="2.1" fill="#fff"/>
<circle cx="337.8" cy="302.7" r="1.9000000000000001" stroke="#151515" stroke-width="0.9" fill="#3a3a3a"/>
<circle cx="350.8" cy="303.4" r="1.9000000000000001" stroke="#151515" stroke-width="0.9" fill="#3a3a3a"/>
<circle cx="374" cy="284.3" r="1.9000000000000001" stroke="#151515" stroke-width="0.9" fill="#3a3a3a"/>
<circle cx="409.3" cy="265.6" r="1.9000000000000001" stroke="#151515" stroke-width="0.9" fill="#3a3a3a"/>
<circle cx="430.6" cy="254.8" r="1.9000000000000001" stroke="#151515" stroke-width="0.9" fill="#3a3a3a"/>
<circle cx="436.1" cy="255.4" r="1.9000000000000001" stroke="#151515" stroke-width="0.9" fill="#3a3a3a"/>
<circle cx="419.3" cy="260.8" r="1.9000000000000001" stroke="#151515" stroke-width="0.9" fill="#3a3a3a"/>
<circle cx="446.6" cy="262.9" r="1.9000000000000001" stroke="#151515" stroke-width="0.9" fill="#3a3a3a"/>
<circle cx="456" cy="269.8" r="1.9000000000000001" stroke="#151515" stroke-width="0.9" fill="#3a3a3a"/>
<circle cx="475.5" cy="284.5" r="1.9000000000000001" stroke="#151515" stroke-width="0.9" fill="#3a3a3a"/>
<circle cx="469" cy="288" r="1.9000000000000001" stroke="#151515" stroke-width="0.9" fill="#3a3a3a"/>
<circle cx="498.2" cy="299.5" r="1.9000000000000001" stroke="#151515" stroke-width="0.9" fill="#3a3a3a"/>
<circle cx="466" cy="244.2" r="1.9000000000000001" stroke="#151515" stroke-width="0.9" fill="#3a3a3a"/>
<circle cx="434.4" cy="244.2" r="1.9000000000000001" stroke="#151515" stroke-width="0.9" fill="#3a3a3a"/>
<circle cx="501.2" cy="292.5" r="1.4000000000000001" stroke="#151515" stroke-width="0.9" fill="#3a3a3a"/>
<circle cx="507.6" cy="292.5" r="1.7" stroke="#151515" stroke-width="0.9" fill="#3a3a3a"/>
<circle cx="512.5" cy="289.5" r="1.8" stroke="#151515" stroke-width="0.9" fill="#3a3a3a"/>
</g>
<path d="M400.5 397 L350.3 397 Q343.5 397 343.5 403.8 L343.5 410.2 Q343.5 416.5 349.4 416.5 L357 416.5 Q360 416.5 360 413.2 L360.1 410.5 Q360.3 408.3 363.1 408.3 L400.5 408.3 Z" stroke="#3c3c3c" stroke-width="0.9" fill="none" stroke-linejoin="round"/>
<path d="M417.5 397.5 L563.5 397.5 Q565 397.5 565 399 L565 407.3 Q565 408.7 563.5 408.7 L417.5 408.7 Z" stroke="#3c3c3c" stroke-width="0.9" fill="none" stroke-linejoin="round"/>
<line x1="520" y1="397.5" x2="520" y2="408.7" stroke="#3c3c3c" stroke-width="0.9"/>
<line x1="538" y1="397.5" x2="538" y2="408.7" stroke="#3c3c3c" stroke-width="0.9"/>
<path d="M366.7 408.3 L366.7 415.8 L559.2 415.8 L559.2 408.3 Z" stroke="#3c3c3c" stroke-width="0.9" fill="#fff" stroke-linejoin="round"/>
<line x1="400" y1="408.3" x2="400" y2="415.8" stroke="#3c3c3c" stroke-width="0.9"/>
<line x1="401.8" y1="408.7" x2="401.8" y2="415.8" stroke="#3c3c3c" stroke-width="0.9"/>
<rect x="374.09999999999997" y="415.6" width="2.6" height="1.1" fill="#222"/>
<rect x="394.09999999999997" y="415.6" width="2.6" height="1.1" fill="#222"/>
<rect x="421.2" y="415.6" width="2.6" height="1.1" fill="#222"/>
<rect x="483.4" y="415.6" width="2.6" height="1.1" fill="#222"/>
<rect x="545.4000000000001" y="415.6" width="2.6" height="1.1" fill="#222"/>
<line x1="559.2" y1="408.5" x2="559.2" y2="416" stroke="#222" stroke-width="1.3"/>
<circle cx="373" cy="411.8" r="1.9" stroke="#151515" stroke-width="0.9" fill="#3a3a3a"/>
<circle cx="405" cy="411.8" r="1.9" stroke="#151515" stroke-width="0.9" fill="#3a3a3a"/>
<circle cx="459.5" cy="412.2" r="1.9" stroke="#151515" stroke-width="0.9" fill="#3a3a3a"/>
<line x1="459.2" y1="415.8" x2="505.8" y2="459.2" stroke="#3c3c3c" stroke-width="0.9"/>
<line x1="468.3" y1="415.8" x2="511.7" y2="462.5" stroke="#3c3c3c" stroke-width="0.9"/>
<circle cx="505.6" cy="463.4" r="3.35" stroke="#111" stroke-width="2.2" fill="#fff"/>
<line x1="343.3" y1="374" x2="343.3" y2="403" stroke="#6a6a6a" stroke-width="0.7"/>
<line x1="565.6" y1="374" x2="565.6" y2="504" stroke="#6a6a6a" stroke-width="0.7"/>
<line x1="343.3" y1="376.3" x2="565.6" y2="376.3" stroke="#6a6a6a" stroke-width="0.8"/>
<path d="M343.30 376.30 L348.30 374.90 L348.30 377.70 Z" fill="#222"/>
<path d="M565.60 376.30 L560.60 377.70 L560.60 374.90 Z" fill="#222"/>
<text x="449" y="374.2" font-size="9" fill="#3a3a3a" text-anchor="middle" textLength="26.7" lengthAdjust="spacingAndGlyphs">122cm</text>
<line x1="417.5" y1="388.5" x2="417.5" y2="397.5" stroke="#6a6a6a" stroke-width="0.7"/>
<line x1="417.5" y1="390.3" x2="565.6" y2="390.3" stroke="#6a6a6a" stroke-width="0.8"/>
<path d="M417.50 390.30 L422.50 388.90 L422.50 391.70 Z" fill="#222"/>
<path d="M565.60 390.30 L560.60 391.70 L560.60 388.90 Z" fill="#222"/>
<text x="504.4" y="389.1" font-size="9" fill="#3a3a3a" text-anchor="middle" textLength="23.8" lengthAdjust="spacingAndGlyphs">81cm</text>
<line x1="323.7" y1="486" x2="323.7" y2="504" stroke="#6a6a6a" stroke-width="0.7"/>
<line x1="323.7" y1="502.3" x2="565.6" y2="502.3" stroke="#6a6a6a" stroke-width="0.8"/>
<path d="M323.70 502.30 L328.70 500.90 L328.70 503.70 Z" fill="#222"/>
<path d="M565.60 502.30 L560.60 503.70 L560.60 500.90 Z" fill="#222"/>
<text x="473" y="500.6" font-size="9" fill="#3a3a3a" text-anchor="middle" textLength="26.4" lengthAdjust="spacingAndGlyphs">133cm</text>
<text x="9.7" y="535.7" font-size="10.9" fill="#2a2a2a" text-anchor="start" textLength="68.6" lengthAdjust="spacingAndGlyphs">MS-L101 2.0</text>
<text x="490" y="586" font-weight="bold" font-size="33" fill="#ebebeb" stroke="#e6e6e6" stroke-width="1.6" textLength="97" lengthAdjust="spacingAndGlyphs">BAZAR</text>
<text x="491.2" y="585" font-weight="bold" font-size="33" fill="#fff" textLength="97" lengthAdjust="spacingAndGlyphs">BAZAR</text>
<path d="M556 561 L561.5 553.5 L567 561" stroke="#e6e6e6" stroke-width="2.2" fill="none"/>
</svg></body></html>
